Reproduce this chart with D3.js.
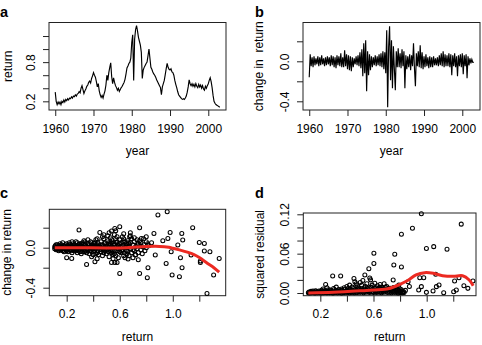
<!DOCTYPE html>
<html>
<head>
<meta charset="utf-8">
<script src="https://cdn.jsdelivr.net/npm/d3@7"></script>
<style>
  body { margin: 0; background: #fff; }
  svg { display: block; font-family: "Liberation Sans", Arial, Helvetica, sans-serif; }
</style>
</head>
<body>
<div id="chart"></div>
<script>
// quarterly series, 1960.00 .. 2003.00
const rateStart = 1960;
const rateStep = 0.25;

const rate = [
  0.34, 0.20, 0.15, 0.19,  0.16, 0.19, 0.15, 0.20,  0.18, 0.22, 0.19, 0.23,
  0.21, 0.24, 0.22, 0.25,  0.24, 0.27, 0.25, 0.28,  0.27, 0.30, 0.28, 0.31,
  0.32, 0.35, 0.33, 0.40,  0.44, 0.38, 0.32, 0.36,  0.39, 0.43, 0.45, 0.49,
  0.51, 0.48, 0.55, 0.59,  0.64, 0.60, 0.57, 0.50,  0.42, 0.47, 0.36, 0.30,
  0.26, 0.29, 0.25, 0.31,  0.36, 0.45, 0.60, 0.52,  0.64, 0.72, 0.79, 0.58,
  0.47, 0.56, 0.49, 0.44,  0.41, 0.37, 0.40, 0.35,  0.38, 0.41, 0.43, 0.46,
  0.49, 0.54, 0.62, 0.71,  0.74, 0.78, 0.80, 0.86,  1.10, 1.22, 0.52, 1.15,
  1.30, 1.36, 1.28, 1.18,  1.12, 1.06, 0.95, 0.55,  0.68, 0.72, 0.75, 0.78,
  0.80, 0.90, 1.00, 0.86,  0.72, 0.69, 0.65, 0.62,  0.60, 0.57, 0.53, 0.50,
  0.47, 0.44, 0.41, 0.30,  0.42, 0.47, 0.52, 0.61,  0.70, 0.78, 0.72, 0.69,
  0.68, 0.70, 0.65, 0.64,  0.60, 0.52, 0.46, 0.41,  0.35, 0.30, 0.28, 0.26,
  0.24, 0.23, 0.24, 0.23,  0.25, 0.28, 0.34, 0.42,  0.53, 0.47, 0.44, 0.47,
  0.43, 0.46, 0.42, 0.47,  0.43, 0.41, 0.46, 0.42,  0.45, 0.40, 0.44, 0.39,
  0.37, 0.43, 0.40, 0.44,  0.47, 0.52, 0.56, 0.50,  0.41, 0.29, 0.20, 0.17,
  0.15, 0.14, 0.13, 0.12,  0.11
];

const rateChange = [
  -0.16, 0.07, -0.05, 0.04,  -0.06, 0.05, -0.04, 0.03,  -0.03, 0.05, -0.05, 0.04,
  -0.04, 0.06, -0.03, 0.03,  -0.05, 0.04, -0.04, 0.05,  -0.03, 0.04, -0.05, 0.06,
  -0.04, 0.05, -0.06, 0.04,  -0.07, 0.06, -0.04, 0.05,  -0.05, 0.08, -0.06, 0.04,
  -0.06, 0.11, -0.05, 0.07,  -0.08, 0.06, -0.09, 0.05,  -0.10, 0.04, -0.06, 0.03,
  -0.03, 0.05, -0.04, 0.06,  -0.05, 0.09, -0.07, 0.12,  -0.15, 0.18, -0.12, 0.21,
  -0.30, 0.10, -0.14, 0.07,  -0.09, 0.05, -0.06, 0.04,  -0.04, 0.06, -0.05, 0.05,
  -0.04, 0.07, -0.05, 0.08,  -0.06, 0.10, -0.08, 0.09,  -0.12, 0.31, -0.46, 0.14,
  0.35, -0.19, 0.21, -0.27,  0.15, -0.08, -0.29, 0.10,  -0.06, 0.13, -0.06, 0.08,
  -0.07, 0.12, -0.05, 0.10,  -0.27, 0.06, -0.08, 0.05,  -0.06, 0.07, -0.09, 0.06,
  -0.05, 0.18, -0.07, -0.25,  0.08, -0.05, 0.10, -0.06,  0.16, -0.07, 0.09, -0.08,
  0.05, -0.06, 0.07, -0.05,  0.04, -0.07, 0.05, -0.06,  0.04, -0.06, 0.05, -0.04,
  0.03, -0.04, 0.04, -0.05,  0.06, -0.04, 0.08, -0.05,  0.10, -0.06, 0.07, -0.05,
  0.06, -0.05, 0.08, -0.06,  0.07, -0.14, 0.06, -0.05,  0.08, -0.06, 0.05, -0.15,
  0.06, -0.05, 0.07, -0.06,  0.08, -0.13, 0.06, -0.05,  0.07, -0.17, 0.05, -0.04,
  0.03, -0.02, 0.02, -0.01,  -0.01
];

// [lagged return, change in return]
const changePoints = [
  [0.11,0.01],[0.12,-0.02],[0.12,0.03],[0.13,0.00],[0.13,-0.01],[0.14,0.02],[0.14,-0.03],[0.15,0.01],[0.15,0.04],[0.11,-0.01],[0.13,0.03],[0.14,0.00],[0.12,0.00],[0.15,-0.02],
  [0.16,0.03],[0.16,-0.02],[0.17,0.00],[0.17,0.05],[0.18,-0.04],[0.18,0.02],[0.19,0.01],[0.19,-0.01],[0.20,0.04],[0.20,-0.03],[0.16,0.01],[0.18,-0.01],[0.17,-0.03],[0.19,0.03],
  [0.21,0.02],[0.21,-0.04],[0.22,0.05],[0.22,0.00],[0.23,-0.02],[0.23,0.03],[0.24,0.01],[0.24,-0.05],[0.25,0.04],[0.25,-0.01],[0.21,0.01],[0.22,-0.02],[0.24,0.06],[0.23,0.00],
  [0.26,0.03],[0.26,-0.03],[0.27,0.01],[0.27,0.06],[0.28,-0.05],[0.28,0.02],[0.29,0.00],[0.29,-0.02],[0.30,0.04],[0.30,-0.04],[0.26,0.00],[0.28,0.05],[0.27,-0.01],[0.29,0.03],
  [0.31,0.02],[0.31,-0.06],[0.32,0.05],[0.32,-0.01],[0.33,0.00],[0.33,0.07],[0.34,-0.03],[0.34,0.03],[0.35,0.01],[0.35,-0.05],[0.31,0.04],[0.32,-0.04],[0.34,0.06],[0.33,-0.02],
  [0.36,0.04],[0.36,-0.02],[0.37,0.02],[0.37,-0.06],[0.38,0.06],[0.38,0.00],[0.39,-0.04],[0.39,0.03],[0.40,0.01],[0.40,-0.07],[0.36,0.08],[0.38,-0.03],[0.37,0.00],[0.39,0.05],
  [0.41,0.05],[0.41,-0.03],[0.42,0.00],[0.42,0.08],[0.43,-0.05],[0.43,0.02],[0.44,0.04],[0.44,-0.07],[0.45,0.01],[0.45,-0.02],[0.41,0.02],[0.43,0.09],[0.42,-0.06],[0.44,0.00],
  [0.46,0.06],[0.46,-0.04],[0.47,0.02],[0.47,-0.08],[0.48,0.09],[0.48,0.00],[0.49,-0.03],[0.49,0.05],[0.50,0.03],[0.50,-0.06],[0.46,0.00],[0.47,0.11],[0.48,-0.05],[0.49,0.01],
  [0.51,0.07],[0.51,-0.02],[0.52,0.01],[0.52,-0.09],[0.53,0.10],[0.53,0.03],[0.54,-0.05],[0.54,0.05],[0.55,0.00],[0.55,-0.07],[0.51,0.12],[0.52,0.04],[0.53,-0.03],[0.54,0.08],
  [0.56,0.04],[0.56,-0.06],[0.57,0.09],[0.57,0.00],[0.58,-0.03],[0.58,0.06],[0.59,0.02],[0.59,-0.10],[0.60,0.08],[0.60,-0.04],[0.56,0.13],[0.57,-0.08],[0.58,0.11],[0.59,0.01],
  [0.61,0.05],[0.61,-0.05],[0.62,0.02],[0.62,-0.02],[0.63,0.09],[0.63,-0.08],[0.64,0.00],[0.64,0.06],[0.65,-0.03],[0.65,0.04],[0.62,0.11],[0.64,-0.10],[0.61,0.00],[0.63,0.03],
  [0.66,0.07],[0.66,-0.04],[0.67,0.02],[0.67,-0.08],[0.68,0.05],[0.68,-0.01],[0.69,0.09],[0.69,-0.05],[0.70,0.03],[0.70,-0.02],[0.66,0.00],[0.68,0.12],[0.67,0.04],
  [0.71,0.06],[0.71,-0.03],[0.72,0.01],[0.72,-0.07],[0.73,0.08],[0.73,-0.01],[0.74,0.04],[0.74,-0.05],[0.75,0.02],[0.75,0.07],[0.71,0.10],
  [0.76,-0.02],[0.76,0.05],[0.77,0.01],[0.77,-0.06],[0.78,0.09],[0.78,0.03],[0.79,-0.03],[0.80,0.06],[0.80,0.00],[0.81,0.04],[0.82,0.02],
  [0.115,0.02],[0.125,-0.01],[0.135,0.01],[0.145,-0.01],[0.155,0.02],[0.165,-0.01],[0.175,0.02],[0.185,0.00],[0.195,-0.02],[0.205,0.02],
  [0.215,-0.01],[0.225,0.03],[0.235,-0.03],[0.245,0.02],[0.255,-0.02],[0.265,0.02],[0.275,-0.03],[0.285,0.01],[0.295,-0.01],[0.305,0.02],
  [0.315,0.00],[0.325,0.03],[0.335,-0.04],[0.345,0.01],[0.355,-0.01],[0.365,0.03],[0.375,-0.03],[0.385,0.02],[0.395,-0.01],[0.405,0.04],
  [0.415,-0.01],[0.425,0.03],[0.435,-0.03],[0.445,0.02],[0.455,-0.04],[0.465,0.03],[0.475,-0.02],[0.485,0.04],[0.495,-0.01],[0.505,0.01],
  [0.515,-0.04],[0.525,0.06],[0.535,0.00],[0.545,-0.02],[0.555,0.03],[0.565,-0.03],[0.575,0.05],[0.585,-0.01],[0.595,0.04],[0.605,0.01],
  [0.615,-0.03],[0.625,0.06],[0.635,-0.05],[0.645,0.02],[0.655,-0.06],[0.665,0.05],
  [0.888,0.327],[0.958,0.36],[1.15,0.20],[0.75,0.20],[0.60,0.21],[0.563,0.193],[0.538,0.167],[0.45,0.153],[0.293,0.177],[0.858,0.143],
  [0.98,0.153],[1.068,0.143],[0.80,0.11],[0.925,0.07],[0.963,0.093],[1.075,0.077],[1.038,0.027],[1.20,0.053],[1.238,0.043],[1.238,-0.033],
  [1.28,-0.04],[1.138,-0.073],[0.868,-0.073],[0.988,-0.04],[1.058,-0.10],[1.208,-0.133],[1.208,-0.147],[1.35,-0.107],[0.95,-0.157],[1.07,-0.20],
  [0.813,-0.20],[0.75,-0.257],[0.808,-0.30],[0.995,-0.273],[1.05,-0.29],[1.308,-0.273],[1.258,-0.457],[0.60,-0.257],[0.35,-0.167],[0.413,-0.14],
  [0.538,-0.147],[0.563,-0.147],[0.58,-0.147],[0.238,-0.107],[0.388,-0.09],[0.663,-0.113],[0.718,-0.073],[0.733,0.027],[0.763,0.093],[0.675,0.11],
  [0.813,0.027],[0.84,0.05],[0.20,-0.10],[0.48,0.13],[0.63,0.14],[0.70,-0.10],[0.55,-0.11],[0.43,-0.11],[0.68,0.15],[0.74,-0.12],[0.52,0.15],[0.57,0.17]
];

// [lagged return, squared residual]
const residPoints = [
  [0.11,0.0005],[0.115,0.0015],[0.12,0.0002],[0.125,0.001],[0.13,0.0025],[0.135,0.0004],[0.14,0.0012],[0.145,0.003],[0.15,0.0006],[0.155,0.0018],
  [0.16,0.0002],[0.165,0.0035],[0.17,0.001],[0.175,0.0022],[0.18,0.0004],[0.185,0.0015],[0.19,0.003],[0.195,0.0008],[0.2,0.002],[0.205,0.0001],
  [0.21,0.0042],[0.215,0.0012],[0.22,0.0025],[0.225,0.0005],[0.23,0.0016],[0.235,0.0034],[0.24,0.0008],[0.245,0.002],[0.25,0.0003],[0.255,0.0045],
  [0.26,0.0011],[0.265,0.0028],[0.27,0.0006],[0.275,0.0019],[0.28,0.0038],[0.285,0.0009],[0.29,0.0024],[0.295,0.0002],[0.3,0.0015],[0.305,0.005],
  [0.31,0.0007],[0.315,0.0029],[0.32,0.0013],[0.325,0.004],[0.33,0.0004],[0.335,0.0021],[0.34,0.0055],[0.345,0.001],[0.35,0.0033],[0.355,0.0016],
  [0.36,0.0002],[0.365,0.0044],[0.37,0.0012],[0.375,0.0026],[0.38,0.0006],[0.385,0.0058],[0.39,0.0018],[0.395,0.0031],[0.4,0.0008],[0.405,0.0048],
  [0.41,0.0014],[0.415,0.0036],[0.42,0.0003],[0.425,0.0062],[0.43,0.0022],[0.435,0.001],[0.44,0.0041],[0.445,0.0016],[0.45,0.0068],[0.455,0.0005],
  [0.46,0.0029],[0.465,0.0052],[0.47,0.0013],[0.475,0.0038],[0.48,0.0007],[0.485,0.0072],[0.49,0.0024],[0.495,0.0045],[0.5,0.001],[0.505,0.0034],
  [0.51,0.0064],[0.515,0.0018],[0.52,0.0042],[0.525,0.0004],[0.53,0.0078],[0.535,0.0026],[0.54,0.0055],[0.545,0.0012],[0.55,0.0036],[0.555,0.007],
  [0.56,0.002],[0.565,0.0047],[0.57,0.0008],[0.575,0.0031],[0.58,0.0085],[0.585,0.0015],[0.59,0.0058],[0.595,0.0024],[0.6,0.0006],[0.605,0.0043],
  [0.61,0.0074],[0.615,0.0017],[0.62,0.0035],[0.625,0.0009],[0.63,0.0062],[0.635,0.0027],[0.64,0.0049],[0.645,0.0011],[0.65,0.0081],[0.655,0.0032],
  [0.66,0.0005],[0.665,0.0054],[0.67,0.0021],[0.675,0.0066],[0.68,0.0013],[0.685,0.0039],[0.69,0.0092],[0.695,0.0025],[0.7,0.0047],[0.705,0.0008],
  [0.71,0.0058],[0.715,0.003],[0.72,0.0012],[0.725,0.0071],[0.73,0.0036],[0.735,0.0004],[0.74,0.0052],[0.745,0.0019],[0.75,0.0083],[0.755,0.0028],
  [0.76,0.0009],[0.765,0.0061],[0.77,0.0033],[0.775,0.0015],[0.78,0.0044],[0.785,0.0002],[0.79,0.0037],[0.795,0.0011],[0.8,0.0025],[0.805,0.0006],
  [0.81,0.0048],[0.815,0.0017],[0.82,0.0003],[0.825,0.0022],[0.83,0.0009],
  [0.22,0.006],[0.24,0.013],[0.25,0.008],[0.27,0.005],[0.293,0.026],[0.30,0.007],[0.32,0.009],[0.353,0.026],[0.36,0.006],[0.38,0.008],
  [0.40,0.010],[0.41,0.007],[0.42,0.012],[0.44,0.009],[0.453,0.022],[0.46,0.017],[0.47,0.014],[0.48,0.011],[0.49,0.008],[0.50,0.016],
  [0.51,0.012],[0.52,0.019],[0.535,0.0275],[0.54,0.010],[0.55,0.014],[0.565,0.037],[0.572,0.023],[0.578,0.020],[0.58,0.009],[0.59,0.012],
  [0.603,0.045],[0.603,0.0605],[0.61,0.015],[0.62,0.008],[0.63,0.011],[0.64,0.007],[0.65,0.013],[0.66,0.009],[0.67,0.006],[0.68,0.014],
  [0.69,0.008],[0.70,0.010],[0.72,0.007],[0.748,0.0198],[0.753,0.0427],[0.76,0.059],[0.77,0.009],[0.78,0.005],[0.79,0.012],[0.80,0.006],
  [0.81,0.0397],[0.81,0.0895],[0.84,0.004],[0.86,0.0173],[0.87,0.010],[0.893,0.0986],[0.94,0.0046],[0.948,0.0234],[0.96,0.121],[0.96,0.0097],
  [0.978,0.0234],[0.998,0.068],[0.998,0.001],[1.048,0.003],[1.053,0.0707],[1.068,0.0285],[1.073,0.0097],[1.093,0.0122],[1.128,0.0005],[1.153,0.0666],
  [1.203,0.002],[1.21,0.0183],[1.223,0.0046],[1.243,0.0234],[1.26,0.105],[1.28,0.011],[1.31,0.0071],[1.348,0.0183]
];

// smooth fits
const changeFit = [
  [0.11,0.0],[0.30,-0.001],[0.50,-0.002],[0.65,0.0],[0.80,0.012],[0.90,0.013],[0.97,0.004],[1.00,-0.005],
  [1.05,-0.022],[1.11,-0.045],[1.16,-0.07],[1.20,-0.098],[1.26,-0.155],[1.31,-0.20],[1.35,-0.245]
];
const residFit = [
  [0.11,0.0],[0.30,0.001],[0.55,0.004],[0.70,0.006],[0.77,0.0107],[0.85,0.0183],[0.92,0.0275],[0.985,0.031],
  [1.05,0.030],[1.12,0.0264],[1.20,0.0254],[1.27,0.0264],[1.32,0.0198],[1.35,0.011]
];

const yearTicks = [1960, 1970, 1980, 1990, 2000];
const returnTicks = [0.2, 0.4, 0.6, 0.8, 1.0, 1.2];
const returnLabels = [0.2, 0.6, 1.0];
const rateTicks = [0.2, 0.4, 0.6, 0.8, 1.0, 1.2];
const rateLabels = [0.2, 0.8];
const changeTicks = [-0.4, -0.2, 0.0, 0.2];
const changeLabels = [-0.4, 0.0];
const residTicks = [0, 0.02, 0.04, 0.06, 0.08, 0.10, 0.12];
const residLabels = [0, 0.06, 0.12];

const svg = d3.select('#chart')
  .append('svg')
    .attr('width', 482)
    .attr('height', 345);

const ink = '#222';

const drawPanel = p => {
  const x = d3.scaleLinear().domain(p.xDomain).range([p.left, p.right]);
  const y = d3.scaleLinear().domain(p.yDomain).range([p.bottom, p.top]);
  const g = svg.append('g');

  const xAxis = g.append('g')
    .attr('transform', `translate(0,${p.bottom})`)
    .call(d3.axisBottom(x)
      .tickValues(p.xTicks)
      .tickSize(6)
      .tickSizeOuter(0)
      .tickFormat(d => p.xLabels.includes(d) ? p.xFmt(d) : ''));
  xAxis.select('.domain').remove();
  xAxis.attr('font-family', null).attr('font-size', 12);
  xAxis.selectAll('line').attr('stroke', ink);
  xAxis.selectAll('text').attr('y', 22.5).attr('dy', null).attr('fill', '#000');

  const yAxis = g.append('g')
    .attr('transform', `translate(${p.left},0)`)
    .call(d3.axisLeft(y)
      .tickValues(p.yTicks)
      .tickSize(6)
      .tickSizeOuter(0)
      .tickFormat(d => p.yLabels.includes(d) ? p.yFmt(d) : ''));
  yAxis.select('.domain').remove();
  yAxis.attr('font-family', null).attr('font-size', 12);
  yAxis.selectAll('line').attr('stroke', ink);
  yAxis.selectAll('text')
    .attr('transform', 'rotate(-90)')
    .attr('x', 0)
    .attr('y', -14.5)
    .attr('dy', null)
    .attr('text-anchor', 'middle')
    .attr('fill', '#000');

  g.append('rect')
    .attr('x', p.left)
    .attr('y', p.top)
    .attr('width', p.right - p.left)
    .attr('height', p.bottom - p.top)
    .attr('fill', 'none')
    .attr('stroke', ink)
    .attr('stroke-width', 1);

  g.append('text')
    .attr('x', (p.left + p.right) / 2)
    .attr('y', p.bottom + 45)
    .attr('text-anchor', 'middle')
    .attr('font-size', 12)
    .text(p.xTitle);

  g.append('text')
    .attr('transform', `translate(${p.yTitleX},${(p.top + p.bottom) / 2}) rotate(-90)`)
    .attr('text-anchor', 'middle')
    .attr('font-size', 12)
    .style('white-space', 'pre')
    .text(p.yTitle);

  g.append('text')
    .attr('x', p.tagX)
    .attr('y', p.tagY)
    .attr('font-size', 14.5)
    .attr('font-weight', 'bold')
    .text(p.tag);

  return {g, x, y};
};

const fmt1 = d => d.toFixed(1);
const fmt2 = d => d.toFixed(2);
const yearDomain = [1958.37, 2004.63];

// a: return over time
const a = drawPanel({
  left: 49, right: 226, top: 22.5, bottom: 110,
  xDomain: yearDomain, yDomain: [0.067, 1.407],
  xTicks: yearTicks, xLabels: yearTicks, xFmt: String,
  yTicks: rateTicks, yLabels: rateLabels, yFmt: fmt1,
  xTitle: 'year', yTitle: 'return', yTitleX: 11.5,
  tag: 'a', tagX: 0, tagY: 17
});
a.g.append('path')
  .datum(rate)
  .attr('fill', 'none')
  .attr('stroke', '#000')
  .attr('stroke-width', 1.15)
  .attr('d', d3.line()
    .x((d, i) => a.x(rateStart + i * rateStep))
    .y(d => a.y(d)));

// b: change in return over time
const b = drawPanel({
  left: 303, right: 480, top: 22.5, bottom: 110,
  xDomain: yearDomain, yDomain: [-0.487, 0.388],
  xTicks: yearTicks, xLabels: yearTicks, xFmt: String,
  yTicks: changeTicks, yLabels: changeLabels, yFmt: fmt1,
  xTitle: 'year', yTitle: 'change in  return', yTitleX: 263,
  tag: 'b', tagX: 255, tagY: 16.5
});
b.g.append('path')
  .datum(rateChange)
  .attr('fill', 'none')
  .attr('stroke', '#000')
  .attr('stroke-width', 1.15)
  .attr('d', d3.line()
    .x((d, i) => b.x(rateStart + i * rateStep))
    .y(d => b.y(d)));

// c: change vs lagged return
const c = drawPanel({
  left: 49.3, right: 225.7, top: 209.3, bottom: 295.7,
  xDomain: [0.069, 1.399], yDomain: [-0.48, 0.384],
  xTicks: returnTicks, xLabels: returnLabels, xFmt: fmt1,
  yTicks: changeTicks, yLabels: changeLabels, yFmt: fmt1,
  xTitle: 'return', yTitle: 'change in return', yTitleX: 11,
  tag: 'c', tagX: 0, tagY: 198
});
c.g.append('g')
  .selectAll('circle')
  .data(changePoints)
  .join('circle')
    .attr('cx', d => c.x(d[0]))
    .attr('cy', d => c.y(d[1]))
    .attr('r', 2)
    .attr('fill', 'none')
    .attr('stroke', '#000')
    .attr('stroke-width', 1.05);
c.g.append('path')
  .datum(changeFit)
  .attr('fill', 'none')
  .attr('stroke', '#ec2a22')
  .attr('stroke-width', 3)
  .attr('d', d3.line().curve(d3.curveCatmullRom)
    .x(d => c.x(d[0]))
    .y(d => c.y(d[1])));

// d: squared residual vs lagged return
const d = drawPanel({
  left: 303.3, right: 476, top: 213, bottom: 295.7,
  xDomain: [0.072, 1.371], yDomain: [-0.0041, 0.122],
  xTicks: returnTicks, xLabels: returnLabels, xFmt: fmt1,
  yTicks: residTicks, yLabels: residLabels, yFmt: fmt2,
  xTitle: 'return', yTitle: 'squared residual', yTitleX: 263.5,
  tag: 'd', tagX: 255, tagY: 198
});
d.g.append('g')
  .selectAll('circle')
  .data(residPoints)
  .join('circle')
    .attr('cx', p => d.x(p[0]))
    .attr('cy', p => d.y(p[1]))
    .attr('r', 2)
    .attr('fill', 'none')
    .attr('stroke', '#000')
    .attr('stroke-width', 1.05);
d.g.append('path')
  .datum(residFit)
  .attr('fill', 'none')
  .attr('stroke', '#ec2a22')
  .attr('stroke-width', 3)
  .attr('d', d3.line().curve(d3.curveCatmullRom)
    .x(p => d.x(p[0]))
    .y(p => d.y(p[1])));
</script>
</body>
</html>
